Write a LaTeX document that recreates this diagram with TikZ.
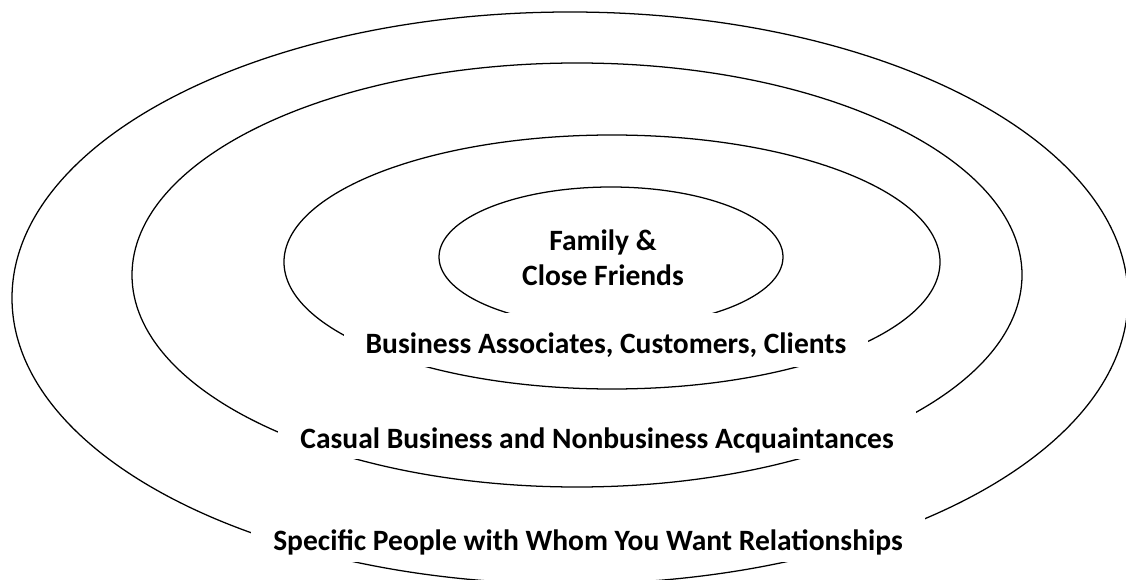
\documentclass[tikz,border=0pt]{standalone}
\usepackage{fontspec}
\setmainfont{Carlito}
\usepackage{tikz}
\usetikzlibrary{positioning}

\begin{document}
\begin{tikzpicture}[line width=0.9pt,
  tag/.style={fill=white, font=\bfseries\fontsize{21}{25}\selectfont, inner xsep=0.55cm, inner ysep=0pt, anchor=base}]
  \clip (0,0) rectangle (28.15,-14.5);
  % centres of the four rings, inner to outer
  \coordinate (C1) at (15.275,-6.425);
  \coordinate (C2) at (15.3,-6.55);
  \coordinate (C3) at (14.425,-6.875);
  \coordinate (C4) at (14.25,-7.45);
  \draw (C1) ellipse [x radius=4.3, y radius=1.75];
  \draw (C2) ellipse [x radius=8.2, y radius=3.175];
  \draw (C3) ellipse [x radius=11.125, y radius=5.3];
  \draw (C4) ellipse [x radius=13.95, y radius=7.15];
  % labels; the white boxes break the rings below them
  \node[align=center, font=\bfseries\fontsize{21}{25}\selectfont] (core) at (15.075,-6.45) {Family \&\\Close Friends};
  \node[tag, text height=1cm, text depth=0.35cm] (biz) at (15.15,-8.825) {Business Associates, Customers, Clients};
  \node[tag, text height=1.075cm, text depth=0.275cm] (acq) at (14.925,-11.2) {Casual Business and Nonbusiness Acquaintances};
  \node[tag, text height=1.125cm, text depth=0.3cm] (want) at (14.7,-13.75) {Specific People with Whom You Want Relationships};
\end{tikzpicture}
\end{document}
